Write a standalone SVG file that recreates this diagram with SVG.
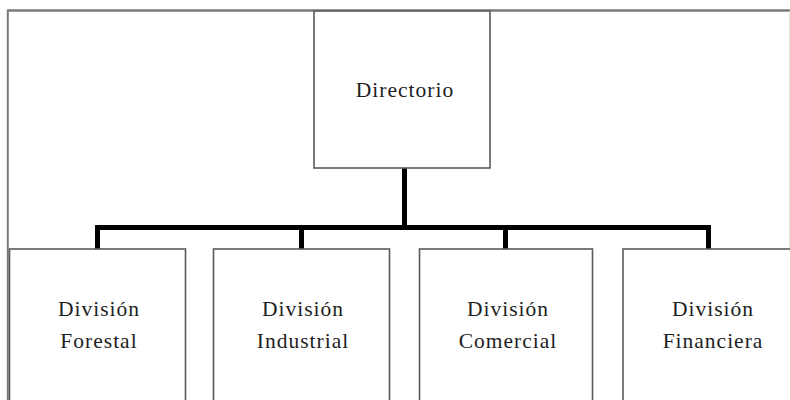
<svg xmlns="http://www.w3.org/2000/svg" width="790" height="400" viewBox="0 0 790 400">
<style>
.box{fill:#fff;stroke:#5a5a5a;stroke-width:1.6}
.lbl{font-family:"Liberation Serif","Times New Roman",serif;font-size:21.5px;letter-spacing:1px;fill:#1e1e1e;text-anchor:middle}
.conn{fill:none;stroke:#000;stroke-width:5;stroke-linejoin:miter;stroke-linecap:butt}
.frame{stroke:#7a7a7a;fill:none}
</style>
<rect width="790" height="400" fill="#fff"/>
<g id="frame">
<line class="frame" x1="7" y1="10.5" x2="790" y2="10.5" stroke-width="2.6"/>
<line class="frame" x1="7.8" y1="10" x2="7.8" y2="400" stroke-width="2"/>
<line x1="789.5" y1="11" x2="789.5" y2="400" stroke="#e6e6e6" stroke-width="1"/>
</g>
<g id="connectors">
<path class="conn" d="M404.5,168 V227.5"/>
<path class="conn" d="M97.5,249 V227.5 H708.5 V249"/>
<path class="conn" d="M301.5,227.5 V249"/>
<path class="conn" d="M505.5,227.5 V249"/>
</g>
<g id="directorio">
<rect class="box" x="314" y="11" width="176" height="157"/>
<text class="lbl" x="405" y="97" letter-spacing="0.8">Directorio</text>
</g>
<g id="forestal">
<rect class="box" x="9.5" y="249" width="176" height="160"/>
<text class="lbl" x="99" y="316">División</text>
<text class="lbl" x="99" y="348">Forestal</text>
</g>
<g id="industrial">
<rect class="box" x="213.5" y="249" width="176" height="160"/>
<text class="lbl" x="303" y="316">División</text>
<text class="lbl" x="303" y="348">Industrial</text>
</g>
<g id="comercial">
<rect class="box" x="419.5" y="249" width="173" height="160"/>
<text class="lbl" x="508" y="316">División</text>
<text class="lbl" x="508" y="348">Comercial</text>
</g>
<g id="financiera">
<rect class="box" x="623" y="249" width="176" height="160"/>
<text class="lbl" x="713" y="316">División</text>
<text class="lbl" x="713" y="348">Financiera</text>
</g>
</svg>
